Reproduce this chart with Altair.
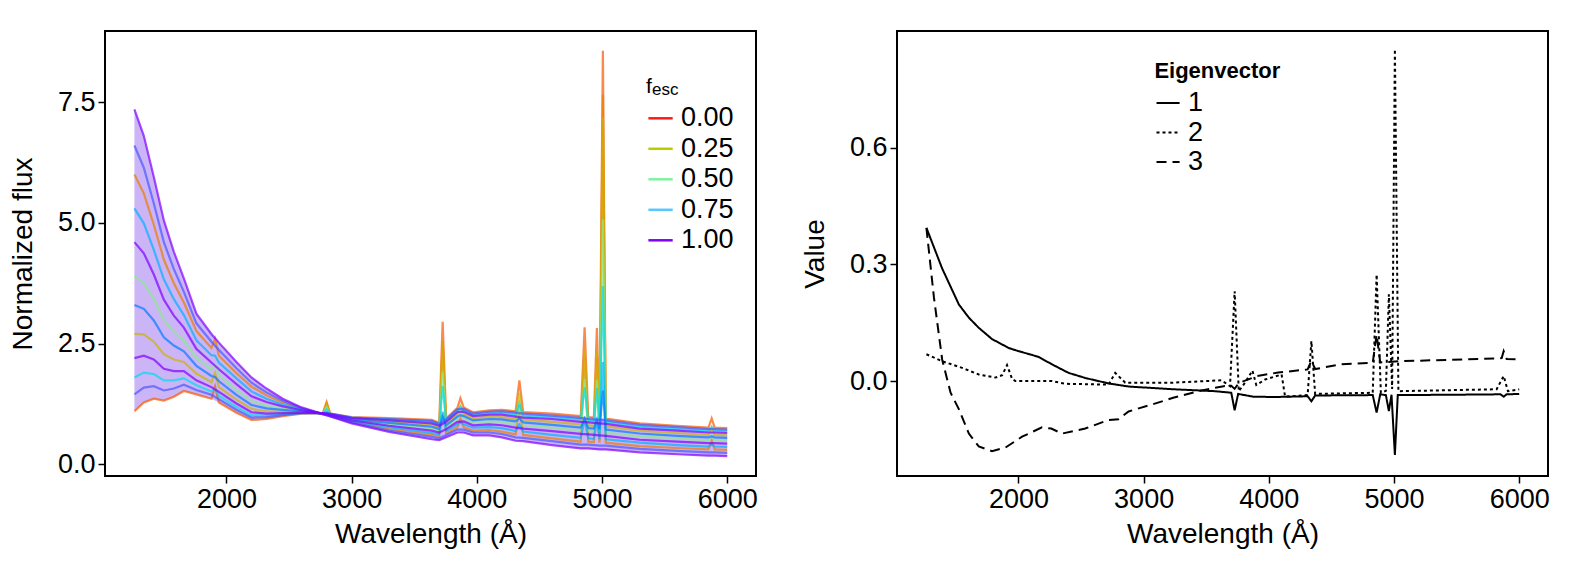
import altair as alt
import pandas as pd

FONT = "Liberation Sans"

# ---------------- left panel data ----------------
WAVELENGTH = [1265, 1340, 1420, 1500, 1580, 1660, 1760, 1880, 1940, 2080,
              2200, 2320, 2450, 2600, 2770, 2830, 3000, 3300, 3640, 3700,
              3755, 3845, 3895, 3970, 4100, 4200, 4310, 4370, 4600, 4830,
              4890, 4935, 4980, 5030, 5300, 5600, 5850, 5900, 6000]

S01 = [7.35, 6.80, 5.95, 5.05, 4.40, 3.85, 3.12, 2.70, 2.52, 2.12, 1.80, 1.57, 1.36, 1.18, 1.04, 0.99, 0.85, 0.67, 0.52, 0.50,
       0.56, 0.66, 0.66, 0.60, 0.60, 0.56, 0.49, 0.48, 0.40, 0.33, 0.33, 0.32, 0.31, 0.31, 0.25, 0.21, 0.18, 0.18, 0.17]
S02 = [6.60, 6.14, 5.40, 4.60, 4.04, 3.57, 2.92, 2.54, 2.37, 1.99, 1.69, 1.49, 1.32, 1.16, 1.04, 1.00, 0.87, 0.70, 0.57, 0.54,
       0.61, 0.72, 0.72, 0.66, 0.66, 0.63, 0.56, 0.55, 0.48, 0.41, 0.41, 0.40, 0.39, 0.39, 0.32, 0.28, 0.25, 0.25, 0.24]
S03 = [6.00, 5.61, 4.96, 4.24, 3.75, 3.35, 2.76, 2.41, 2.25, 1.89, 1.61, 1.43, 1.28, 1.15, 1.04, 1.00, 0.88, 0.73, 0.61, 0.58,
       0.64, 0.77, 0.77, 0.70, 0.71, 0.68, 0.62, 0.61, 0.54, 0.47, 0.47, 0.46, 0.45, 0.45, 0.38, 0.34, 0.31, 0.31, 0.30]
S04 = [5.30, 4.99, 4.44, 3.83, 3.42, 3.09, 2.57, 2.26, 2.11, 1.78, 1.51, 1.36, 1.24, 1.14, 1.05, 1.01, 0.89, 0.77, 0.65, 0.62,
       0.69, 0.83, 0.83, 0.76, 0.77, 0.75, 0.69, 0.68, 0.61, 0.55, 0.54, 0.53, 0.52, 0.52, 0.45, 0.40, 0.37, 0.37, 0.36]
S05 = [4.60, 4.37, 3.93, 3.41, 3.08, 2.83, 2.39, 2.11, 1.97, 1.66, 1.41, 1.29, 1.20, 1.12, 1.05, 1.02, 0.91, 0.80, 0.70, 0.66,
       0.73, 0.88, 0.89, 0.81, 0.83, 0.81, 0.76, 0.74, 0.69, 0.63, 0.62, 0.61, 0.60, 0.59, 0.51, 0.47, 0.44, 0.44, 0.43]
S06 = [3.90, 3.75, 3.42, 2.99, 2.74, 2.56, 2.20, 1.96, 1.84, 1.54, 1.31, 1.22, 1.16, 1.11, 1.05, 1.02, 0.92, 0.83, 0.74, 0.70,
       0.78, 0.94, 0.95, 0.86, 0.89, 0.88, 0.83, 0.81, 0.76, 0.70, 0.69, 0.68, 0.67, 0.66, 0.58, 0.54, 0.50, 0.50, 0.49]
S07 = [3.30, 3.22, 2.98, 2.63, 2.46, 2.34, 2.04, 1.83, 1.72, 1.44, 1.23, 1.16, 1.13, 1.10, 1.05, 1.03, 0.93, 0.86, 0.78, 0.73,
       0.81, 0.99, 1.00, 0.91, 0.94, 0.93, 0.89, 0.87, 0.82, 0.76, 0.75, 0.74, 0.73, 0.72, 0.64, 0.59, 0.56, 0.56, 0.55]
S08 = [2.70, 2.69, 2.54, 2.28, 2.17, 2.12, 1.88, 1.70, 1.60, 1.34, 1.15, 1.10, 1.09, 1.08, 1.05, 1.03, 0.95, 0.89, 0.82, 0.77,
       0.85, 1.04, 1.05, 0.96, 0.99, 0.98, 0.94, 0.93, 0.88, 0.83, 0.81, 0.80, 0.79, 0.79, 0.70, 0.65, 0.61, 0.61, 0.60]
S09 = [2.20, 2.25, 2.17, 1.98, 1.93, 1.93, 1.74, 1.60, 1.50, 1.26, 1.08, 1.05, 1.06, 1.07, 1.06, 1.04, 0.96, 0.91, 0.85, 0.80,
       0.88, 1.08, 1.09, 1.00, 1.03, 1.03, 0.99, 0.97, 0.94, 0.88, 0.87, 0.86, 0.85, 0.84, 0.74, 0.70, 0.66, 0.66, 0.65]
S10 = [1.80, 1.90, 1.87, 1.74, 1.74, 1.78, 1.64, 1.51, 1.42, 1.19, 1.02, 1.01, 1.04, 1.06, 1.06, 1.04, 0.97, 0.93, 0.88, 0.82,
       0.91, 1.11, 1.12, 1.03, 1.06, 1.07, 1.03, 1.01, 0.98, 0.93, 0.91, 0.90, 0.89, 0.88, 0.78, 0.73, 0.70, 0.70, 0.69]
S11 = [1.45, 1.59, 1.62, 1.53, 1.57, 1.65, 1.54, 1.44, 1.35, 1.13, 0.97, 0.98, 1.02, 1.06, 1.06, 1.05, 0.97, 0.94, 0.90, 0.84,
       0.93, 1.14, 1.15, 1.05, 1.09, 1.10, 1.07, 1.05, 1.01, 0.96, 0.94, 0.93, 0.92, 0.91, 0.82, 0.77, 0.73, 0.73, 0.72]
S12 = [1.10, 1.28, 1.36, 1.32, 1.40, 1.52, 1.45, 1.36, 1.28, 1.07, 0.92, 0.94, 1.00, 1.05, 1.06, 1.05, 0.98, 0.96, 0.92, 0.86,
       0.95, 1.17, 1.18, 1.08, 1.12, 1.13, 1.10, 1.08, 1.05, 1.00, 0.98, 0.97, 0.96, 0.95, 0.85, 0.80, 0.76, 0.76, 0.75]

SPECTRA = {"s01": S01, "s02": S02, "s03": S03, "s04": S04, "s05": S05, "s06": S06,
           "s07": S07, "s08": S08, "s09": S09, "s10": S10, "s11": S11, "s12": S12}
F_ESC = {"s01": 1.0, "s02": 0.95, "s03": 0.1, "s04": 0.8, "s05": 1.0, "s06": 0.45,
         "s07": 0.9, "s08": 0.2, "s09": 1.0, "s10": 0.65, "s11": 0.95, "s12": 0.05}

# emission-line peak values (C III], Mg II, [O II], [Ne III], Hg, Hb, [O III] x2, He I)
LINE_WAVELENGTH = [1909, 2800, 3727, 3869, 4340, 4861, 4959, 5007, 5876]
LINE_PEAKS = {
    "s03": [2.60, 1.25, 2.55, 0.95, 1.23, 2.23, 2.21, 7.65, 0.49],
    "s04": [2.25, 1.08, 1.09, 0.87, 0.82, 0.94, 0.92, 2.12, 0.41],
    "s06": [2.07, 1.18, 1.92, 1.06, 1.19, 1.77, 1.75, 5.07, 0.61],
    "s07": [1.81, 1.07, 0.99, 1.02, 0.95, 0.95, 0.93, 1.53, 0.58],
    "s08": [1.89, 1.24, 2.53, 1.21, 1.48, 2.38, 2.36, 7.19, 0.77],
    "s10": [1.57, 1.14, 1.62, 1.19, 1.26, 1.60, 1.58, 3.69, 0.77],
    "s12": [1.61, 1.29, 2.95, 1.37, 1.74, 2.84, 2.82, 8.56, 0.95],
}

FESC_LABELS = ["0.00", "0.25", "0.50", "0.75", "1.00"]
FESC_STOPS = [0.0, 0.25, 0.5, 0.75, 1.0]
FESC_COLORS = ["#FF1A1A", "#B8CC00", "#7FF2A0", "#58C6FF", "#7F00FF"]

# ---------------- right panel data ----------------
EV1_WAVE = [1265, 1390, 1524, 1604, 1683, 1789, 1923, 2000, 2100, 2162, 2268, 2401, 2534, 2720, 2880, 3236, 3572, 3700, 3727, 3755,
            3874, 4042, 4310, 4340, 4370, 4830, 4861, 4890, 4935, 4959, 4980, 5007, 5030, 5500, 5850, 5876, 5900, 6000]
EV1_VALUE = [0.394, 0.290, 0.197, 0.163, 0.137, 0.108, 0.085, 0.077, 0.068, 0.062, 0.043, 0.021, 0.008, -0.006, -0.014, -0.021,
             -0.026, -0.030, -0.075, -0.033, -0.040, -0.041, -0.039, -0.052, -0.037, -0.036, -0.081, -0.034, -0.036, -0.077,
             -0.035, -0.190, -0.036, -0.035, -0.034, -0.040, -0.034, -0.033]
EV2_WAVE = [1265, 1391, 1550, 1683, 1817, 1870, 1909, 1950, 1976, 2268, 2375, 2720, 2773, 2853, 3236, 3622, 3690, 3727, 3760, 3810,
            3869, 3900, 3970, 4102, 4130, 4310, 4340, 4370, 4830, 4861, 4895, 4935, 4959, 4985, 5007, 5035, 5820, 5876, 5910, 6000]
EV2_VALUE = [0.069, 0.051, 0.034, 0.017, 0.009, 0.015, 0.041, 0.005, 0.000, 0.000, -0.007, -0.009, 0.021, -0.004, -0.004, 0.002,
             -0.013, 0.231, -0.026, -0.004, 0.027, -0.010, 0.004, 0.017, -0.040, -0.036, 0.103, -0.033, -0.030, 0.274,
             -0.030, -0.025, 0.223, -0.020, 0.853, -0.026, -0.021, 0.013, -0.026, -0.021]
EV3_WAVE = [1265, 1325, 1391, 1458, 1524, 1604, 1683, 1789, 1896, 2029, 2188, 2262, 2348, 2534, 2720, 2800, 2880, 3068, 3236, 3437,
            3572, 3639, 3700, 3727, 3760, 3907, 4075, 4310, 4340, 4370, 4579, 4830, 4861, 4890, 5048, 5250, 5586, 5821, 5860, 5876,
            5900, 6000]
EV3_VALUE = [0.394, 0.215, 0.055, -0.030, -0.072, -0.135, -0.168, -0.180, -0.171, -0.143, -0.119, -0.122, -0.135, -0.122, -0.100,
             -0.098, -0.078, -0.060, -0.043, -0.026, -0.017, -0.013, -0.012, -0.020, -0.005, 0.013, 0.022, 0.030, 0.052, 0.031,
             0.043, 0.047, 0.120, 0.048, 0.051, 0.053, 0.056, 0.058, 0.059, 0.077, 0.057, 0.056]
EV_LABELS = ["1", "2", "3"]

X_TICKS = [2000, 3000, 4000, 5000, 6000]
LEFT_Y_TICKS = [0.0, 2.5, 5.0, 7.5]
RIGHT_Y_TICKS = [0.0, 0.3, 0.6]

# ---------------- tables ----------------
rows = []
for name, flux in SPECTRA.items():
    for wl, v in zip(WAVELENGTH, flux):
        rows.append({"spec": name, "fesc": F_ESC[name], "wl": wl, "flux": v})
cont = pd.DataFrame(rows)
prow = []
for name, peaks in LINE_PEAKS.items():
    for wl, v in zip(LINE_WAVELENGTH, peaks):
        prow.append({"spec": name, "fesc": F_ESC[name], "wl": wl, "flux": v})
spec = pd.concat([cont, pd.DataFrame(prow)], ignore_index=True)
spec = spec.sort_values(["fesc", "spec", "wl"]).reset_index(drop=True)
env = cont.groupby("wl")["flux"].agg(["min", "max"]).reset_index()

ev_rows = []
for lab, ws, vs in zip(EV_LABELS, [EV1_WAVE, EV2_WAVE, EV3_WAVE], [EV1_VALUE, EV2_VALUE, EV3_VALUE]):
    for w, v in zip(ws, vs):
        ev_rows.append({"ev": lab, "wl": w, "value": v})
ev = pd.DataFrame(ev_rows)

# ---------------- layout / style ----------------
W, H = 651, 445
TICK_FS = 27
TITLE_FS = 28
xs = alt.Scale(domain=[1030, 6230], nice=False, zero=False)
ys_left = alt.Scale(domain=[-0.24, 8.97], nice=False, zero=False)
ys_right = alt.Scale(domain=[-0.244, 0.900], nice=False, zero=False)

x_axis = alt.Axis(values=X_TICKS, format="d", title="Wavelength (Å)", titlePadding=8)
yl_axis = alt.Axis(values=LEFT_Y_TICKS, format=".1f", title="Normalized flux", titlePadding=20)
yr_axis = alt.Axis(values=RIGHT_Y_TICKS, format=".1f", title="Value", titlePadding=20)

area = alt.Chart(env).mark_area(color="#9a6cf0", opacity=0.5).encode(
    x=alt.X("wl:Q", scale=xs, axis=x_axis),
    y=alt.Y("min:Q", scale=ys_left, axis=yl_axis),
    y2="max:Q",
)
lines = alt.Chart(spec).mark_line(strokeWidth=2.2, opacity=0.7, clip=True).encode(
    x=alt.X("wl:Q", scale=xs),
    y=alt.Y("flux:Q", scale=ys_left),
    color=alt.Color("fesc:Q", scale=alt.Scale(domain=FESC_STOPS, range=FESC_COLORS), legend=None),
    detail="spec:N",
)

left_layers = [area, lines]
left_layers.append(alt.Chart(pd.DataFrame({"t": ["f"]})).mark_text(
    align="left", baseline="alphabetic", fontSize=21, font=FONT, color="black").encode(
    x=alt.value(541), y=alt.value(61.7), text="t:N"))
left_layers.append(alt.Chart(pd.DataFrame({"t": ["esc"]})).mark_text(
    align="left", baseline="alphabetic", fontSize=17, font=FONT, color="black").encode(
    x=alt.value(547), y=alt.value(63.5), text="t:N"))
for i, (lab, col) in enumerate(zip(FESC_LABELS, FESC_COLORS)):
    yy = 87.3 + i * 30.5
    left_layers.append(alt.Chart(pd.DataFrame({"t": [lab]})).mark_rule(color=col, strokeWidth=2.5).encode(
        x=alt.value(543.4), x2=alt.value(567.7), y=alt.value(yy)))
    left_layers.append(alt.Chart(pd.DataFrame({"t": [lab]})).mark_text(
        align="left", baseline="middle", fontSize=TICK_FS, font=FONT, color="black").encode(
        x=alt.value(576), y=alt.value(yy), text="t:N"))
left = alt.layer(*left_layers).properties(width=W, height=H)

DASHES = [[1, 0], [3, 3], [10, 6]]
ev_lines = alt.Chart(ev).mark_line(color="black", strokeWidth=2, clip=True).encode(
    x=alt.X("wl:Q", scale=xs, axis=x_axis),
    y=alt.Y("value:Q", scale=ys_right, axis=yr_axis),
    strokeDash=alt.StrokeDash("ev:N", scale=alt.Scale(domain=EV_LABELS, range=DASHES), legend=None),
)
right_layers = [ev_lines]
right_layers.append(alt.Chart(pd.DataFrame({"t": ["Eigenvector"]})).mark_text(
    align="left", baseline="alphabetic", fontSize=22, fontWeight="bold", font=FONT, color="black").encode(
    x=alt.value(257.4), y=alt.value(46.7), text="t:N"))
for i, (lab, dash) in enumerate(zip(EV_LABELS, DASHES)):
    yy = 72 + i * 29.5
    right_layers.append(alt.Chart(pd.DataFrame({"t": [lab]})).mark_rule(
        color="black", strokeWidth=2, strokeDash=dash).encode(
        x=alt.value(259.5), x2=alt.value(282.6), y=alt.value(yy)))
    right_layers.append(alt.Chart(pd.DataFrame({"t": [lab]})).mark_text(
        align="left", baseline="middle", fontSize=TICK_FS, font=FONT, color="black").encode(
        x=alt.value(291), y=alt.value(yy), text="t:N"))
right = alt.layer(*right_layers).properties(width=W, height=H)

chart = alt.hconcat(left, right, spacing=41).properties(
    padding={"left": 0, "top": 22, "right": 0, "bottom": 0}
).configure(font=FONT).configure_view(
    stroke="black", strokeWidth=2
).configure_axis(
    labelFont=FONT, titleFont=FONT, labelFontSize=TICK_FS, titleFontSize=TITLE_FS,
    titleFontWeight="normal", labelColor="black", titleColor="black",
    tickColor="black", tickSize=7, tickWidth=1.5, domain=False, grid=False,
    labelPadding=3,
)

chart.save("out.html", embed_options={"renderer": "svg", "actions": False})
